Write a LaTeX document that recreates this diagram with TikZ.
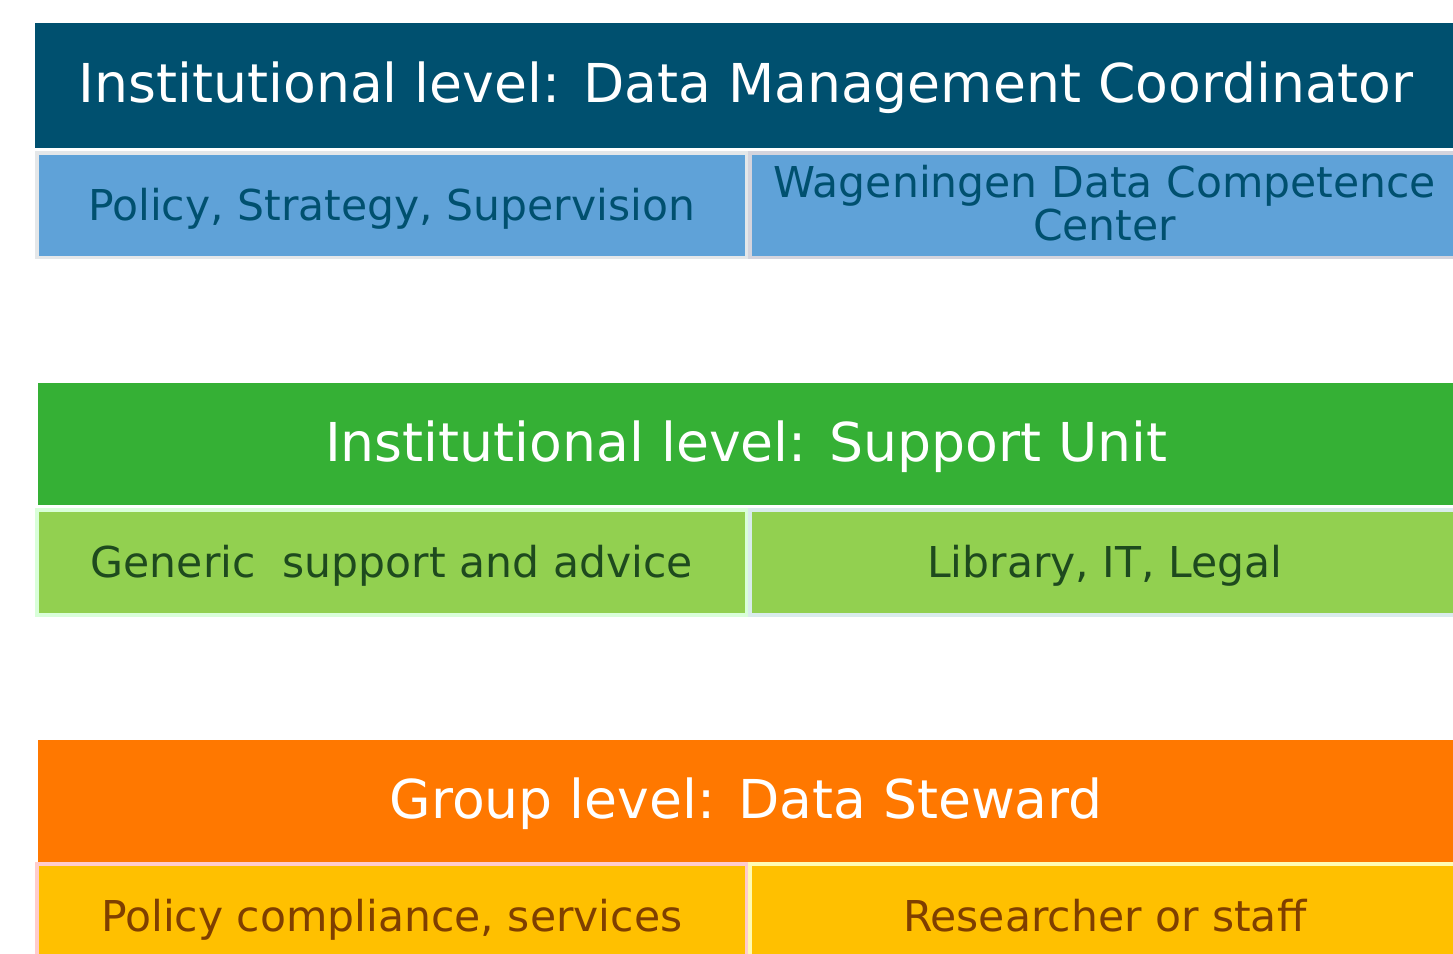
\documentclass[tikz,border=0pt]{standalone}
\usepackage{fontspec}
\setmainfont{DejaVu Sans}
\usetikzlibrary{positioning}
\definecolor{coordblue}{HTML}{00506F}
\definecolor{policyblue}{HTML}{5FA2D8}
\definecolor{supportgreen}{HTML}{35B035}
\definecolor{genericgreen}{HTML}{92D050}
\definecolor{textgreen}{HTML}{1E4A1E}
\definecolor{stewardorange}{HTML}{FF7800}
\definecolor{researchyellow}{HTML}{FFC000}
\definecolor{textbrown}{HTML}{7F3F00}

\begin{document}
\begin{tikzpicture}[x=0.02cm, y=-0.02cm,
  header/.style={rectangle, anchor=north west, minimum height=2.5cm, inner sep=0pt, text height=24pt, text depth=4.6pt, text=white, font=\fontsize{30.5}{36}\selectfont},
  taskbox/.style={rectangle, anchor=north west, minimum width=14.2cm, minimum height=2.1cm, inner sep=0pt, line width=2pt, align=center, font=\fontsize{24.2}{26.5}\selectfont},
  task/.style={taskbox, text height=18pt, text depth=1pt}
]
  \useasboundingbox (0,0) rectangle (1453,953);
  \clip (0,0) rectangle (1453,953);

  % institutional level: coordinator
  \node[header, fill=coordblue, minimum width=28.44cm] (coord) at (35,23) {Institutional level: Data Management Coordinator};
  \node[task, fill=policyblue, draw=cyan!12!gray!22, text=coordblue] (policy) at (35,151) {Policy, Strategy, Supervision};
  \node[taskbox, fill=policyblue, draw=blue!12!gray!30, text=coordblue] (wdcc) at (748,151) {Wageningen Data Competence\\[-2pt]Center\rule[-3pt]{0pt}{0pt}};

  % institutional level: support unit
  \node[header, fill=supportgreen, minimum width=28.32cm, minimum height=2.44cm] (support) at (38,383) {Institutional level: Support Unit};
  \node[task, fill=genericgreen, draw=green!15, text=textgreen] (generic) at (35,508) {Generic\ \ support and advice};
  \node[task, fill=genericgreen, draw=teal!15, text=textgreen] (library) at (748,508) {Library, IT, Legal};

  % group level
  \node[header, fill=stewardorange, minimum width=28.32cm, minimum height=2.44cm] (steward) at (38,740) {Group level: Data Steward};
  \node[task, fill=researchyellow, draw=red!20, text=textbrown] (compliance) at (35,862) {Policy compliance, services};
  \node[task, fill=researchyellow, draw=yellow!30, text=textbrown] (researcher) at (748,862) {Researcher or staff};
\end{tikzpicture}
\end{document}
